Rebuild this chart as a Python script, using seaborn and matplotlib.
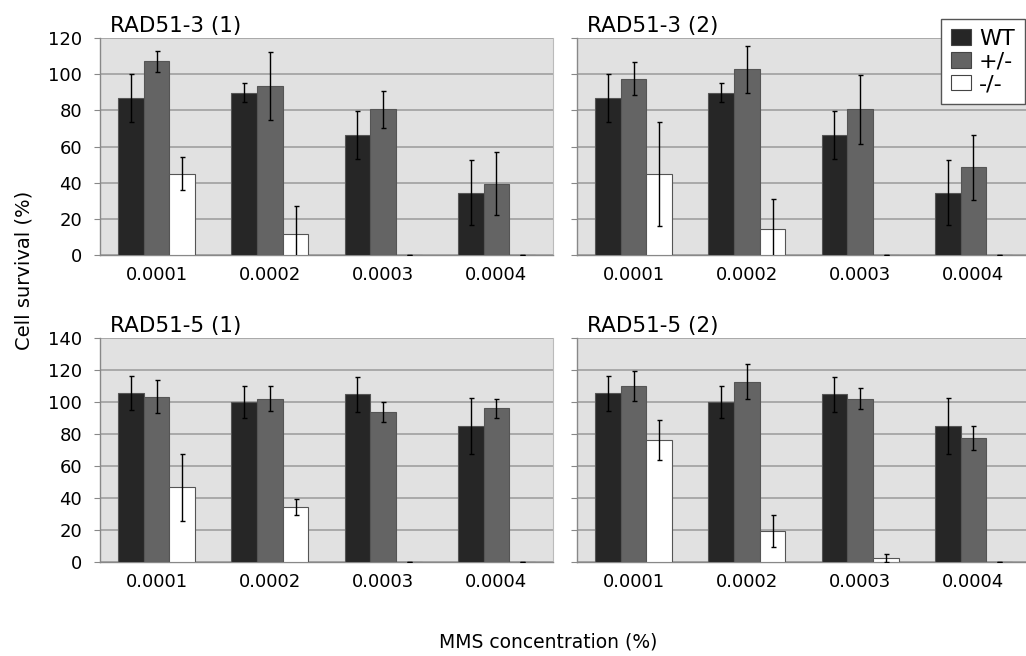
import numpy as np
import pandas as pd
import seaborn as sns
import matplotlib.pyplot as plt
from matplotlib.patches import Patch

sns.set_style("white")
plt.rcParams["font.family"] = ["DejaVu Sans"]
plt.rcParams["text.color"] = "black"
plt.rcParams["xtick.labelcolor"] = "black"
plt.rcParams["ytick.labelcolor"] = "black"

CONCENTRATIONS = ["0.0001", "0.0002", "0.0003", "0.0004"]
GENOTYPES = ["WT", "+/-", "-/-"]
COLORS = ["#262626", "#646464", "#ffffff"]

# RAD51-3 (1)
r3a_wt = [86.6, 89.7, 66.5, 34.5]
r3a_het = [107.1, 93.2, 80.5, 39.5]
r3a_ko = [44.9, 11.4, 0.0, 0.0]
r3a_wt_err = [13.3, 5.2, 13.2, 17.9]
r3a_het_err = [5.9, 18.8, 10.0, 17.5]
r3a_ko_err = [9.2, 15.7, 0.0, 0.0]

# RAD51-3 (2)
r3b_wt = [86.6, 89.7, 66.5, 34.5]
r3b_het = [97.5, 102.8, 80.5, 48.6]
r3b_ko = [44.9, 14.4, 0.0, 0.0]
r3b_wt_err = [13.3, 5.2, 13.2, 17.9]
r3b_het_err = [9.0, 13.0, 19.0, 18.0]
r3b_ko_err = [28.7, 16.4, 0.0, 0.0]

# RAD51-5 (1)
r5a_wt = [105.6, 100.0, 104.8, 85.2]
r5a_het = [103.3, 102.1, 94.0, 96.0]
r5a_ko = [46.7, 34.4, 0.0, 0.0]
r5a_wt_err = [10.8, 10.0, 11.0, 17.5]
r5a_het_err = [10.3, 8.0, 6.2, 6.1]
r5a_ko_err = [21.0, 4.9, 0.0, 0.0]

# RAD51-5 (2)
r5b_wt = [105.4, 100.0, 104.8, 85.2]
r5b_het = [110.0, 112.7, 102.1, 77.7]
r5b_ko = [76.3, 19.4, 2.5, 0.0]
r5b_wt_err = [10.8, 9.9, 11.0, 17.4]
r5b_het_err = [9.6, 11.0, 6.5, 7.4]
r5b_ko_err = [12.7, 10.2, 2.7, 0.0]

PANELS = [
  ("RAD51-3 (1)", (r3a_wt, r3a_het, r3a_ko), (r3a_wt_err, r3a_het_err, r3a_ko_err), 120),
  ("RAD51-3 (2)", (r3b_wt, r3b_het, r3b_ko), (r3b_wt_err, r3b_het_err, r3b_ko_err), 120),
  ("RAD51-5 (1)", (r5a_wt, r5a_het, r5a_ko), (r5a_wt_err, r5a_het_err, r5a_ko_err), 140),
  ("RAD51-5 (2)", (r5b_wt, r5b_het, r5b_ko), (r5b_wt_err, r5b_het_err, r5b_ko_err), 140),
]

W, H = 1026, 656
# pixel boxes of the plot areas: left, top, right, bottom
BOXES = [(100, 38, 553, 255), (577, 38, 1030, 255),
         (100, 338, 553, 562), (577, 338, 1030, 562)]


def make_frame(means, errs):
  rows = []
  for g, m, e in zip(GENOTYPES, means, errs):
    for c, v, s in zip(CONCENTRATIONS, m, e):
      rows.append({"conc": c, "genotype": g, "survival": v, "err": s})
  return pd.DataFrame(rows)


def draw_panel(ax, title, means, errs, ymax, show_labels):
  df = make_frame(means, errs)
  sns.barplot(data=df, x="conc", y="survival", hue="genotype", order=CONCENTRATIONS,
              hue_order=GENOTYPES, palette=COLORS, errorbar=None, width=0.68,
              edgecolor="#555555", linewidth=0.8, legend=False, ax=ax, zorder=3)
  for g, cont in zip(GENOTYPES, ax.containers):
    sub = df[df["genotype"] == g]
    xs = [b.get_x() + b.get_width() / 2 for b in cont]
    ax.errorbar(xs, sub["survival"], yerr=sub["err"], fmt="none", ecolor="black",
                elinewidth=1.0, capsize=1.8, capthick=1.0, zorder=4)

  ax.set_facecolor("#e1e1e1")
  ax.set_xlim(-0.5, 3.5)
  ax.set_ylim(0, ymax)
  ax.set_yticks(np.arange(0, ymax + 1, 20))
  ax.grid(axis="y", color="#9a9a9a", linewidth=1.1, zorder=0)
  ax.set_axisbelow(True)
  ax.set_xticks(np.arange(-0.5, 4.0, 1.0), minor=True)
  ax.tick_params(axis="x", which="major", length=0, pad=8, labelsize=13)
  ax.tick_params(axis="x", which="minor", length=4, color="#888888", direction="out")
  ax.tick_params(axis="y", length=4, color="#888888", direction="out", pad=9,
                 labelsize=13, left=True, labelleft=show_labels)
  for side in ["left", "bottom"]:
    ax.spines[side].set_color("#888888")
    ax.spines[side].set_linewidth(1.0)
  ax.spines["right"].set_color("#bbbbbb")
  ax.spines["top"].set_visible(False)
  ax.set_xlabel("")
  ax.set_ylabel("")
  ax.text(0.022, 1.028, title, transform=ax.transAxes, fontsize=15.5,
          ha="left", va="baseline")


def main():
  fig = plt.figure(figsize=(W / 100, H / 100), dpi=100)
  for (title, means, errs, ymax), (l, t, r, b) in zip(PANELS, BOXES):
    ax = fig.add_axes([l / W, 1 - b / H, (r - l) / W, (b - t) / H])
    draw_panel(ax, title, means, errs, ymax, show_labels=(l < 300))

  handles = [Patch(facecolor=c, edgecolor="#444444", linewidth=0.8) for c in COLORS]
  leg = fig.legend(handles, GENOTYPES, loc="upper left", bbox_to_anchor=(941 / W, 1 - 19 / H),
                   fontsize=16, frameon=True, fancybox=False, handlelength=0.9,
                   handleheight=0.7, handletextpad=0.35, labelspacing=0.12,
                   borderpad=0.45, borderaxespad=0)
  leg.get_frame().set_edgecolor("#555555")
  leg.get_frame().set_linewidth(1.0)
  leg.get_frame().set_alpha(1.0)

  fig.text(24 / W, 1 - 270 / H, "Cell survival (%)", rotation=90, fontsize=14,
           ha="center", va="center")
  fig.text(548 / W, 1 - 648 / H, "MMS concentration (%)", fontsize=13.5,
           ha="center", va="baseline")
  fig.savefig("out.png", dpi=100)


if __name__ == "__main__":
  main()
